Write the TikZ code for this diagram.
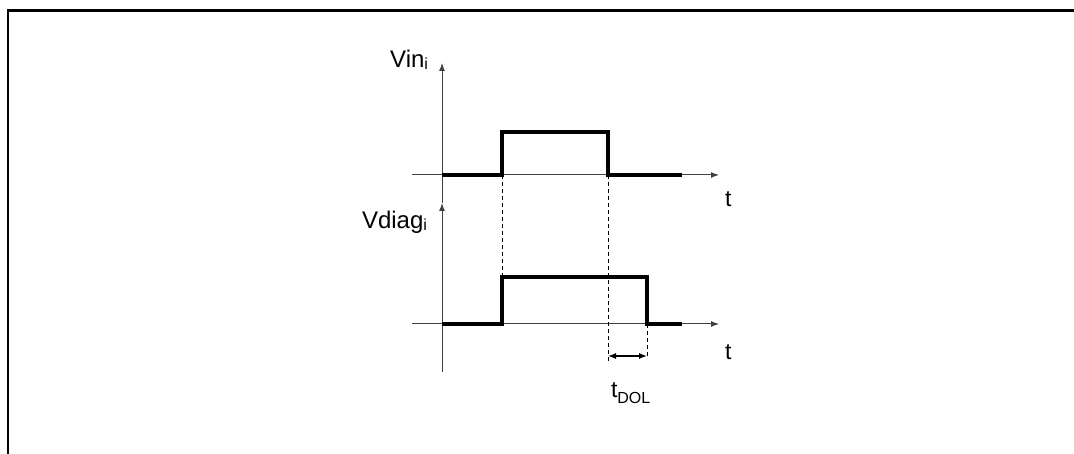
\documentclass[tikz,border=0pt]{standalone}
\usepackage{fontspec}
\setmainfont{Liberation Sans}
\usetikzlibrary{arrows.meta}
\begin{document}
\begin{tikzpicture}[x=1bp,y=-1bp,
  axisline/.style={line width=1bp, draw=black!75, -{Latex[length=8bp,width=6bp]}},
  signal/.style={line width=4bp, line join=miter, line cap=butt},
  guide/.style={line width=0.8bp, dash pattern=on 4bp off 3bp},
  dim/.style={line width=1.2bp, {Latex[length=8bp,width=6bp]}-{Latex[length=8bp,width=6bp]}},
  frameline/.style={line width=2.5bp},
  lbl/.style={font=\fontsize{24bp}{28bp}\selectfont, inner sep=0pt, outer sep=0pt},
  tlbl/.style={font=\fontsize{23bp}{27bp}\selectfont, inner sep=0pt, outer sep=0pt}]
\useasboundingbox (0,0) rectangle (1074,454);
% frame
\coordinate (fbl) at (8,454);
\coordinate (ftl) at (8,10.5);
\coordinate (ftr) at (1074,10.5);
\draw[frameline] (fbl) -- (ftl) -- (ftr);
% coordinates
\coordinate (a1) at (442,203);
\coordinate (a1t) at (442,63);
\coordinate (a2) at (442,372);
\coordinate (h1s) at (412,175);
\coordinate (h1e) at (719,175);
\coordinate (h2s) at (412,324);
\coordinate (h2e) at (719,324);
% axes
\draw[axisline] (a1) -- (a1t);
\draw[axisline] (a2) -- (a1);
\draw[axisline] (h1s) -- (h1e);
\draw[axisline] (h2s) -- (h2e);
% signals
\coordinate (s1a) at (442,175);
\coordinate (s1b) at (502,175);
\coordinate (s1c) at (502,132);
\coordinate (s1d) at (608,132);
\coordinate (s1e) at (608,175);
\coordinate (s1f) at (682,175);
\draw[signal] (s1a) -- (s1b) -- (s1c) -- (s1d) -- (s1e) -- (s1f);
\coordinate (s2a) at (442,324);
\coordinate (s2b) at (502,324);
\coordinate (s2c) at (502,277);
\coordinate (s2d) at (647,277);
\coordinate (s2e) at (647,324);
\coordinate (s2f) at (682,324);
\draw[signal] (s2a) -- (s2b) -- (s2c) -- (s2d) -- (s2e) -- (s2f);
% guides
\coordinate (g1) at (608,363);
\coordinate (g2) at (647,357);
\draw[guide] (s1b) -- (s2c);
\draw[guide] (s1e) -- (g1);
\draw[guide] (s2e) -- (g2);
% dimension
\coordinate (d1) at (608,356);
\coordinate (d2) at (647,356);
\draw[dim] (d1) -- (d2);
% labels
\node[lbl, anchor=base east] (vin) at (428,68) {Vin\raisebox{-2bp}{\fontsize{16bp}{16bp}\selectfont i}};
\node[lbl, anchor=base west] (vdiag) at (362,229) {Vdiag\raisebox{-2bp}{\fontsize{16bp}{16bp}\selectfont i}};
\node[tlbl, anchor=base west] (t1) at (725,207) {t};
\node[tlbl, anchor=base west] (t2) at (725,360) {t};
\node[tlbl, anchor=base west] (tdol) at (611,398) {t\raisebox{-6bp}{\fontsize{16bp}{16bp}\selectfont DOL}};
\end{tikzpicture}
\end{document}
